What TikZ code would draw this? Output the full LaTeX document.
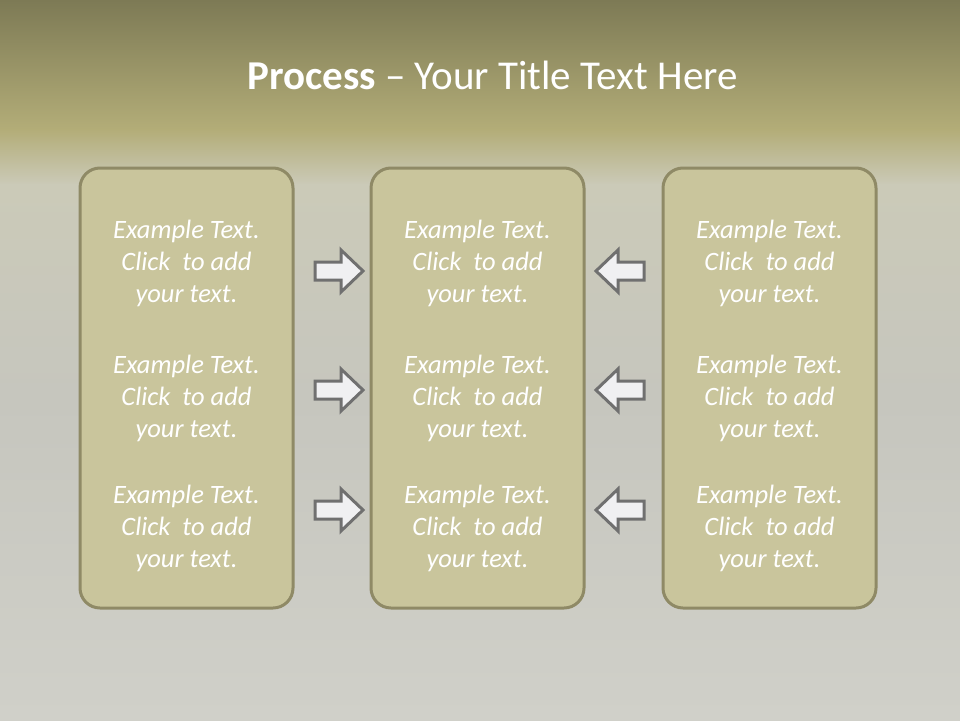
\documentclass[tikz,border=0pt]{standalone}
\usepackage{fontspec}
\setmainfont{Carlito}
\definecolor{bgtop}{HTML}{7D7A55}
\definecolor{bgband}{HTML}{B3AD78}
\definecolor{bgmid}{HTML}{CBCAB8}
\definecolor{bggray}{HTML}{C6C6BE}
\definecolor{bgbot}{HTML}{D0D0C9}
\definecolor{boxfill}{HTML}{C9C59C}
\definecolor{boxline}{HTML}{8F8A66}
\definecolor{arrline}{HTML}{707070}
\definecolor{arrfill}{HTML}{F0F0F2}
\tikzset{
  panel/.style={draw=boxline, line width=3pt, fill=boxfill, rounded corners=20pt,
    minimum width=213pt, minimum height=440pt, inner sep=0pt},
  ptext/.style={text=white, font=\fontsize{26.5}{32}\selectfont\itshape, align=center, inner sep=0pt},
  blockarrow/.style={draw=arrline, line width=3pt, fill=arrfill, line join=miter},
  rarr/.pic={\draw[blockarrow] (-23,-9) -- (3,-9) -- (3,-21) -- (25,0) -- (3,21) -- (3,9) -- (-23,9) -- cycle;},
  larr/.pic={\draw[blockarrow] (23,-9) -- (-3,-9) -- (-3,-21) -- (-25,0) -- (-3,21) -- (-3,9) -- (23,9) -- cycle;}
}
\begin{document}
\begin{tikzpicture}[x=1pt,y=-1pt]
\useasboundingbox (0,0) rectangle (960,720);
% background
\shade[top color=bgtop, bottom color=bgband] (0,0) rectangle (960,130);
\shade[top color=bgband, bottom color=bgmid] (0,129.5) rectangle (960,185);
\shade[top color=bgmid, bottom color=bggray] (0,184.5) rectangle (960,400);
\shade[top color=bggray, bottom color=bgbot] (0,399.5) rectangle (960,720);
% title
\node[text=white, font=\fontsize{41}{48}\selectfont, inner sep=0pt] (title) at (492.5,75)
  {\textbf{Process} – Your Title Text Here};
% panels
\node[panel] (b1) at (186.5,388) {};
\node[panel] (b2) at (477.5,388) {};
\node[panel] (b3) at (769.5,388) {};
% texts
\foreach \c/\x in {1/186.5,2/477.5,3/769.5}{
  \foreach \r/\y in {1/263,2/398,3/528}{
    \node[ptext] (t\c\r) at (\x,\y) {Example Text.\\Click\ \ to add\\your text.};
  }
}
% arrows
\foreach \r/\y in {1/271,2/390,3/510}{
  \pic (ra\r) at (338,\y) {rarr};
  \pic (la\r) at (621,\y) {larr};
}
\end{tikzpicture}
\end{document}
